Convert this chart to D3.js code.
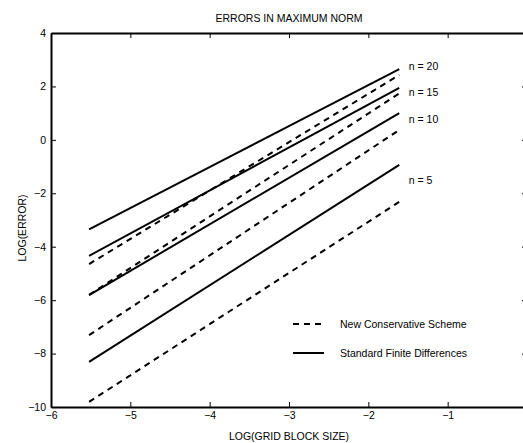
<!DOCTYPE html>
<html>
<head>
<meta charset="utf-8">
<script src="https://cdn.jsdelivr.net/npm/d3@7"></script>
<style>
  body { margin: 0; background: #fff; }
  svg { font-family: "Liberation Sans", Arial, sans-serif; }
  .axis path { stroke: #000; stroke-width: 2; }
  .axis line { stroke: #000; stroke-width: 1; }
  .axis text { font-size: 10.5px; fill: #000; }
</style>
</head>
<body>
<svg id="chart" width="523" height="443"></svg>
<script>
// log(grid block size) at the two ends of every line
var logH = [-5.52, -1.61];

// standard finite differences (solid)
var standardN20 = [-3.35, 2.65];
var standardN15 = [-4.34, 1.95];
var standardN10 = [-5.81, 1.0];
var standardN5 = [-8.31, -0.94];

// new conservative scheme (dashed)
var conservN20 = [-4.65, 2.43];
var conservN15 = [-5.8, 1.74];
var conservN10 = [-7.31, 0.37];
var conservN5 = [-9.81, -2.32];

var nLabels = ["n = 20", "n = 15", "n = 10", "n = 5"];
var nLabelY = [2.76, 1.79, 0.78, -1.5];
var nLabelX = -1.49;

var xTicks = [-6, -5, -4, -3, -2, -1, 0];
var yTicks = [-10, -8, -6, -4, -2, 0, 2, 4];

var svg = d3.select("#chart");

var x = d3.scaleLinear().domain([-6, 0]).range([51, 527]);
var y = d3.scaleLinear().domain([-10, 4]).range([407, 33]);

// x label at 0 sits past the cropped right edge, so leave it blank
var fmtX = function (d) { return d === 0 ? "" : d3.format("d")(d); };

// axes, ticks pointing inward on all four sides
svg.append("g").attr("class", "axis")
    .attr("transform", "translate(0,407)")
    .call(d3.axisBottom(x).tickValues(xTicks).tickFormat(fmtX).tickSizeInner(-5).tickSizeOuter(0).tickPadding(5));
svg.append("g").attr("class", "axis")
    .attr("transform", "translate(0,33)")
    .call(d3.axisTop(x).tickValues(xTicks).tickSizeInner(-5).tickSizeOuter(0).tickFormat(""));
svg.append("g").attr("class", "axis")
    .attr("transform", "translate(51,0)")
    .call(d3.axisLeft(y).tickValues(yTicks).tickFormat(d3.format("d")).tickSizeInner(-5).tickSizeOuter(0).tickPadding(5));
svg.append("g").attr("class", "axis")
    .attr("transform", "translate(527,0)")
    .call(d3.axisRight(y).tickValues(yTicks).tickSizeInner(-5).tickSizeOuter(0).tickFormat(""));

var line = d3.line()
    .x(function (d, i) { return x(logH[i]); })
    .y(function (d) { return y(d); });

var series = [
    { v: standardN20, dash: null },
    { v: standardN15, dash: null },
    { v: standardN10, dash: null },
    { v: standardN5, dash: null },
    { v: conservN20, dash: "6,5" },
    { v: conservN15, dash: "6,5" },
    { v: conservN10, dash: "6,5" },
    { v: conservN5, dash: "6,5" }
];

svg.selectAll("path.curve")
    .data(series)
    .enter()
    .append("path")
    .attr("class", "curve")
    .attr("d", function (d) { return line(d.v); })
    .attr("fill", "none")
    .attr("stroke", "#000")
    .attr("stroke-width", 2)
    .attr("stroke-dasharray", function (d) { return d.dash; });

svg.selectAll("text.nlab")
    .data(nLabels)
    .enter()
    .append("text")
    .attr("class", "nlab")
    .attr("x", x(nLabelX))
    .attr("y", function (d, i) { return y(nLabelY[i]); })
    .attr("dy", "0.35em")
    .attr("font-size", "10.5px")
    .text(function (d) { return d; });

// legend
var legend = [
    { name: "New Conservative Scheme", dash: "6,5", yy: 324 },
    { name: "Standard Finite Differences", dash: null, yy: 353 }
];
legend.forEach(function (l) {
    svg.append("line")
        .attr("x1", 293).attr("x2", 324)
        .attr("y1", l.yy).attr("y2", l.yy)
        .attr("stroke", "#000")
        .attr("stroke-width", 2)
        .attr("stroke-dasharray", l.dash);
    svg.append("text")
        .attr("x", 340).attr("y", l.yy)
        .attr("dy", "0.35em")
        .attr("font-size", "10.5px")
        .text(l.name);
});

// titles
svg.append("text")
    .attr("x", 289).attr("y", 18)
    .attr("dy", "0.35em")
    .attr("text-anchor", "middle")
    .attr("font-size", "10.5px")
    .text("ERRORS IN MAXIMUM NORM");

svg.append("text")
    .attr("x", 289).attr("y", 440)
    .attr("text-anchor", "middle")
    .attr("font-size", "10.5px")
    .text("LOG(GRID BLOCK SIZE)");

svg.append("text")
    .attr("transform", "translate(22,228) rotate(-90)")
    .attr("dy", "0.35em")
    .attr("text-anchor", "middle")
    .attr("font-size", "10.5px")
    .text("LOG(ERROR)");
</script>
</body>
</html>
